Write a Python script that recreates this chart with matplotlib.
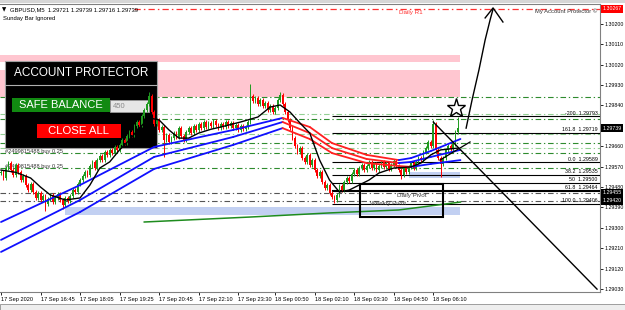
import matplotlib
matplotlib.use("Agg")
import matplotlib.pyplot as plt
import numpy as np
from matplotlib import font_manager
from matplotlib.collections import LineCollection
from matplotlib.patches import Rectangle
from matplotlib.transforms import Affine2D, blended_transform_factory

BASE = 1.29  # levels below given in points (0.00001) above BASE

# GBPUSD M5 closes, one per bar
close_pts = [546, 520, 564, 586, 555, 533, 577, 546, 511, 529,
             489, 467, 494, 458, 432, 454, 423, 441, 405, 427,
             445, 414, 432, 449, 423, 401, 432, 419, 441, 467,
             458, 494, 511, 529, 546, 533, 573, 591, 564, 599,
             617, 599, 635, 622, 644, 630, 657, 644, 666, 688,
             674, 705, 723, 710, 749, 767, 754, 793, 820, 846,
             882, 811, 758, 776, 732, 745, 688, 710, 679, 696,
             718, 701, 740, 705, 688, 723, 740, 718, 749, 732,
             758, 740, 767, 745, 763, 749, 771, 754, 740, 758,
             745, 767, 749, 763, 740, 754, 732, 749, 736, 745,
             767, 882, 860, 873, 846, 864, 838, 851, 820, 838,
             811, 829, 864, 886, 846, 811, 776, 740, 696, 661,
             635, 652, 608, 591, 622, 577, 599, 555, 529, 546,
             502, 476, 489, 454, 436, 423, 445, 485, 467, 502,
             520, 507, 538, 555, 538, 564, 577, 555, 573, 591,
             564, 582, 555, 573, 591, 569, 586, 560, 577, 595,
             573, 555, 533, 564, 546, 569, 586, 564, 591, 608,
             599, 635, 652, 679, 661, 758, 644, 608, 582, 608,
             644, 661, 648, 670, 723, 739]
first_open_pts = 540
wick_pts = 8
# bars with long wicks: bar -> (high, low)
long_wicks = {18: (None, 375), 25: (None, 385), 60: (899, None), 66: (None, 613),
              101: (935, None), 113: (900, None), 135: (None, 410),
              162: (None, 515), 175: (776, None), 178: (None, 525), 185: (789, None)}

# moving averages (bar, points)
black_ma_bar = [0, 6, 12, 16, 20, 26, 32, 36, 40, 44, 48, 52, 56, 60, 64, 68, 72, 76, 80,
                85, 89, 97, 104, 109, 113, 117, 121, 125, 129, 133, 137, 141, 145, 149,
                153, 159, 166, 170, 174, 178, 185]
black_ma_pts = [555, 545, 520, 480, 445, 423, 432, 489, 564, 591, 644, 688, 740, 785, 776,
                732, 696, 696, 718, 735, 745, 767, 789, 833, 842, 811, 763, 718, 599, 511,
                458, 467, 489, 511, 542, 564, 569, 586, 622, 644, 652]
ribbon_bar = [0, 32, 62, 94, 114, 125, 134, 148, 161, 166, 174, 186]
ribbon_pts = [[326, 489, 657, 732, 785, 745, 674, 622, 599, 608, 639, 692],
              [247, 423, 613, 701, 767, 718, 652, 604, 586, 591, 613, 644],
              [194, 370, 560, 666, 740, 692, 630, 586, 573, 569, 582, 599]]
green_ma_bar = [58, 101, 133, 161, 186]
green_ma_pts = [326, 348, 366, 379, 414]

daily_r1 = 1.30267
green_levels = [1.29877, 1.29802, 1.29780, 1.29714, 1.29674, 1.29652, 1.29630, 1.29564]
green_light = [False, True, False, True, False, True, False, False]
pivot_names = ["Daily Pivot", "Weekly Pivot"]
pivot_prices = [1.29455, 1.29420]
fib_names = ["-200", "161.8", "0.0", "38.2", "50", "61.8", "100.0"]
fib_prices = [1.29793, 1.29719, 1.29589, 1.29535, 1.29500, 1.29464, 1.29406]
fib_start = 134
pink_zones = [(1.30032, 1.30062), (1.29877, 1.29996)]
blue_zones = [(26, 1.29357, 1.29392), (165, 1.29520, 1.29546)]
zone_end = 186
box_bars = (145.3, 178.9)
box_prices = (1.29348, 1.29494)

trade_labels = ["#2499815488 buy 0.25", "#2499815488 buy 0.25"]
trade_prices = [1.29630, 1.29564]

time_ticks = [0, 16, 32, 48, 64, 80, 96, 111, 127, 143, 159, 175]
time_labels = ["17 Sep 2020", "17 Sep 16:45", "17 Sep 18:05", "17 Sep 19:25",
               "17 Sep 20:45", "17 Sep 22:10", "17 Sep 23:30", "18 Sep 00:50",
               "18 Sep 02:10", "18 Sep 03:30", "18 Sep 04:50", "18 Sep 06:10"]
price_ticks = [1.30200, 1.30110, 1.30020, 1.29930, 1.29840, 1.29660,
               1.29570, 1.29480, 1.29390, 1.29300, 1.29210, 1.29120, 1.29030]
last_price = 1.29739

# hand drawn marks (bar, price)
trend_bars = [175, 241.3]
trend_prices = [1.29767, 1.29030]
arrow_bars = [188.3, 190.7, 193.5, 196.0, 198.0, 199.2]
arrow_prices = [1.29740, 1.29864, 1.29997, 1.30129, 1.30217, 1.30265]
head_bars = [196.0, 199.2, 203.2]
head_prices = [1.30226, 1.30270, 1.30208]
cross_bars = [177.7, 189.9]
cross_prices = [1.29599, 1.29679]
star_bar, star_price = 184.2, 1.29830

W, H = 625, 310
GREEN, RED, BLUE = "#1f9a1f", "#ff0000", "#1010ff"
names = {f.name for f in font_manager.fontManager.ttflist}
SMALL = "Liberation Sans Narrow" if "Liberation Sans Narrow" in names else "Liberation Sans"
K = 1.0 if SMALL == "Liberation Sans Narrow" else 0.82


def fx(x):
    return x / W


def fy(y):
    return 1 - y / H


def pr(p):
    return BASE + np.asarray(p, float) / 1e5


fig = plt.figure(figsize=(W / 100, H / 100), dpi=100)
ax = fig.add_axes([0, fy(292), fx(600), 288 / H])
ax.set_xlim(-0.405, 242.5)
ax.set_ylim(BASE + 17.3e-5, BASE + 1287.4e-5)
for s in ax.spines.values():
    s.set_color("#808080")
    s.set_linewidth(0.8)
ax.spines["left"].set_visible(False)
pix = Affine2D().scale(1 / W, -1 / H).translate(0, 1) + fig.transFigure

# zones
for lo_, hi_ in pink_zones:
    ax.add_patch(Rectangle((-0.405, lo_), zone_end + 0.405, hi_ - lo_, fc="#ffc6d0", ec="none", zorder=1))
for b0, lo_, hi_ in blue_zones:
    ax.add_patch(Rectangle((b0, lo_), zone_end - b0, hi_ - lo_, fc="#c2d0f2", ec="none", zorder=1))

# horizontal levels
dd = (0, (5, 2.5, 1.2, 2.5))
for lv, light in zip(green_levels, green_light):
    ax.axhline(lv, color="#93d093" if light else "#2e8b2e", lw=0.8, ls=dd, zorder=2)
for lv in pivot_prices:
    ax.axhline(lv, color="#555555", lw=0.8, ls=dd, zorder=2)
ax.hlines(daily_r1, 54, 242.5, color="#ff3030", lw=0.9, ls=dd, zorder=2)
ax.text(161, daily_r1 - 4e-5, "Daily R1", color="#ff3030", fontsize=5.5 * K, family=SMALL, va="top")
ax.text(160.3, pivot_prices[0] - 1e-5, pivot_names[0], color="#404040", fontsize=5.5 * K, family=SMALL, va="top", zorder=7)
ax.text(149.4, pivot_prices[1] - 1e-5, pivot_names[1], color="#404040", fontsize=5.5 * K, family=SMALL, va="top", zorder=7)
for nm, lv in zip(fib_names, fib_prices):
    ax.hlines(lv, fib_start, 242.5, color="black", lw=1.5 if nm == "61.8" else 0.8, zorder=3)
    ax.text(241.5, lv + 2e-5, f"{nm}  {lv:.5f}", fontsize=4.6 * K, family=SMALL, ha="right", va="bottom", zorder=7)
for t, lv in zip(trade_labels, trade_prices):
    ax.text(1.5, lv + 8e-5, t, fontsize=5 * K, family=SMALL, color="#333333", va="center", zorder=3.4)

# account protector panel (chart object: behind the candles)
ax.add_patch(Rectangle((5, 61), 152, 87, transform=pix, fc="black", ec="#a0a0a0", lw=0.8, zorder=3.5, clip_on=False))
ax.plot([5, 157], [85, 85], transform=pix, color="#b0b0b0", lw=0.8, zorder=3.6, clip_on=False)
ax.text(81, 73, "ACCOUNT PROTECTOR", transform=pix, color="white", fontsize=8.5, family="Liberation Sans",
        ha="center", va="center", zorder=3.6)
ax.add_patch(Rectangle((12, 98), 98, 14, transform=pix, fc="#118a11", ec="none", zorder=3.6, clip_on=False))
ax.text(61, 105.5, "SAFE BALANCE", transform=pix, color="white", fontsize=8, family="Liberation Sans",
        ha="center", va="center", zorder=3.7)
ax.add_patch(Rectangle((110, 100), 39, 12, transform=pix, fc="#e6e6e6", ec="#9a9a9a", lw=0.6, zorder=3.6, clip_on=False))
ax.text(113, 106.3, "450", transform=pix, color="#8a8a8a", fontsize=5.5, family="Liberation Sans", va="center", zorder=3.7)
ax.add_patch(Rectangle((37, 124), 84, 14, transform=pix, fc="#ff0000", ec="none", zorder=3.6, clip_on=False))
ax.text(79, 131.5, "CLOSE ALL", transform=pix, color="white", fontsize=8.2, family="Liberation Sans",
        ha="center", va="center", zorder=3.7)

# candles
bars = np.arange(len(close_pts))
c = pr(close_pts)
o = np.r_[pr(first_open_pts), c[:-1]]
hi = np.maximum(o, c) + wick_pts / 1e5
lo = np.minimum(o, c) - wick_pts / 1e5
for b, (h, l) in long_wicks.items():
    if h:
        hi[b] = pr(h)
    if l:
        lo[b] = pr(l)
col = np.where(c >= o, GREEN, RED)
ax.vlines(bars, lo, hi, colors=col, lw=0.7, zorder=4)
ax.bar(bars, np.maximum(np.abs(c - o), 1e-5), bottom=np.minimum(o, c), width=0.7, color=col, lw=0, zorder=4)

# moving averages
ax.plot(green_ma_bar, pr(green_ma_pts), color="#1e8c1e", lw=1.1, zorder=5)
rb = np.array(ribbon_bar, float)
for line in ribbon_pts:
    p = pr(line)
    segs = [[(rb[i], p[i]), (rb[i + 1], p[i + 1])] for i in range(len(rb) - 1)]
    cols = [BLUE if p[i + 1] >= p[i] else "#ff2020" for i in range(len(rb) - 1)]
    ax.add_collection(LineCollection(segs, colors=cols, lw=1.3, zorder=5, capstyle="round"))
ax.plot(black_ma_bar, pr(black_ma_pts), color="black", lw=1.0, zorder=6)

# drawings
ax.add_patch(Rectangle((box_bars[0], box_prices[0]), box_bars[1] - box_bars[0], box_prices[1] - box_prices[0],
                       fill=False, ec="black", lw=1.5, zorder=6))
ax.plot(trend_bars, trend_prices, color="black", lw=1.0, zorder=6)
ax.plot(cross_bars, cross_prices, color="black", lw=0.9, zorder=6)
ax.plot(arrow_bars, arrow_prices, color="black", lw=1.0, zorder=6, clip_on=False)
ax.plot(head_bars, head_prices, color="black", lw=1.0, zorder=6, clip_on=False)
ax.plot(star_bar, star_price, marker="*", ms=14, mfc="none", mec="black", mew=1.0, zorder=6)

# axes ticks
ax.yaxis.tick_right()
ax.set_yticks(price_ticks)
ax.set_yticklabels([f"{p:.5f}" for p in price_ticks], fontsize=4.6 * K, family=SMALL)
ax.tick_params(axis="y", length=2, width=0.6, pad=1.5, colors="black")
ax.set_xticks(time_ticks)
ax.set_xticklabels(time_labels, fontsize=5 * K, family=SMALL, ha="left")
ax.tick_params(axis="x", length=2, width=0.6, pad=1.5)
tr = blended_transform_factory(ax.transAxes, ax.transData)
for lv, fc in [(daily_r1, "#ff0000"), (last_price, "black"), (pivot_prices[0], "black"), (pivot_prices[1], "black")]:
    ax.text(1.004, lv, f"{lv:.5f}", transform=tr, fontsize=4.6 * K, family=SMALL, color="white",
            va="center", ha="left", bbox=dict(boxstyle="square,pad=0.3", fc=fc, ec="none"), zorder=8)

# header texts
fig.text(fx(2), fy(10), "\u25bc", fontsize=4, va="center", family="DejaVu Sans")
fig.text(fx(10), fy(10), "GBPUSD,M5  1.29721 1.29739 1.29716 1.29739", fontsize=5.2 * K, family=SMALL, va="center")
fig.text(fx(3), fy(18.5), "Sunday Bar Ignored", fontsize=5.2 * K, family=SMALL, va="center")
fig.text(fx(597), fy(11), "My Account Protector \u00a9", fontsize=5.2 * K, family=SMALL, va="center", ha="right", color="#333333")
fig.add_artist(Rectangle((0, fy(3)), 1, 3 / H, transform=fig.transFigure, fc="#d6d6d6", ec="none"))
fig.add_artist(Rectangle((0, 0), 1, 6 / H, transform=fig.transFigure, fc="#eeeeee", ec="#909090", lw=0.6))

fig.savefig("out.png", dpi=100)
